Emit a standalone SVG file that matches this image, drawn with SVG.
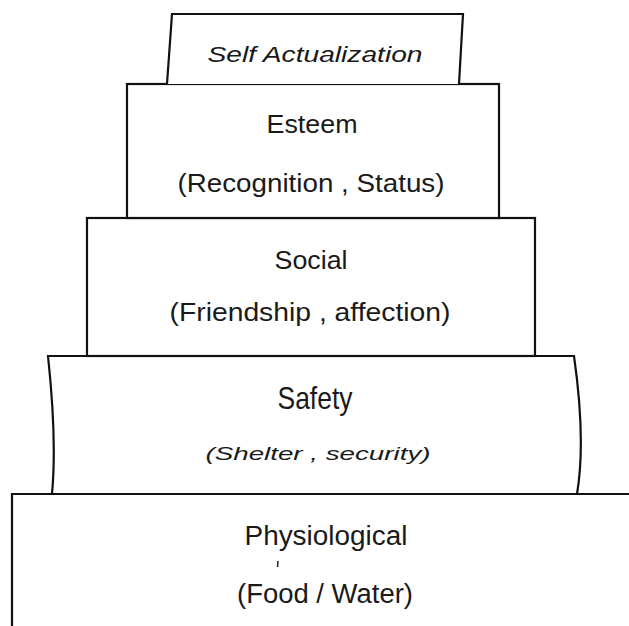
<svg xmlns="http://www.w3.org/2000/svg" width="629" height="626" viewBox="0 0 629 626">
<style>
.box{fill:#fff;stroke:#111;stroke-width:2.2;stroke-linejoin:miter}
.t{font-family:"Liberation Sans",Arial,sans-serif;fill:#1a1a1a;text-anchor:middle}
.i{font-style:italic}
</style>
<rect width="629" height="626" fill="#fff"/>
<g id="physiological">
<path class="box" d="M12,626 V494 H640 V626"/>
<text class="t" x="326" y="545" font-size="27" textLength="163" lengthAdjust="spacingAndGlyphs">Physiological</text>
<path d="M278,561 L277.5,567" stroke="#222" stroke-width="1.5"/>
<text class="t" x="325" y="603" font-size="27" textLength="176" lengthAdjust="spacingAndGlyphs">(Food / Water)</text>
</g>
<g id="safety">
<path class="box" d="M48,356 L574,356 Q586,440 577,494 L52,494 Q57,440 48,356 Z"/>
<text class="t" x="315" y="409" font-size="32" textLength="75" lengthAdjust="spacingAndGlyphs">Safety</text>
<text class="t i" x="318" y="460" font-size="19" textLength="225" lengthAdjust="spacingAndGlyphs">(Shelter , security)</text>
</g>
<g id="social">
<rect class="box" x="87" y="218" width="448" height="138"/>
<text class="t" x="311" y="269" font-size="25" textLength="73" lengthAdjust="spacingAndGlyphs">Social</text>
<text class="t" x="310" y="321" font-size="25" textLength="281" lengthAdjust="spacingAndGlyphs">(Friendship , affection)</text>
</g>
<g id="esteem">
<rect class="box" x="127" y="84" width="372" height="134"/>
<text class="t" x="312" y="133" font-size="26" textLength="91" lengthAdjust="spacingAndGlyphs">Esteem</text>
<text class="t" x="311" y="192" font-size="25" textLength="267" lengthAdjust="spacingAndGlyphs">(Recognition , Status)</text>
</g>
<g id="self-actualization">
<path class="box" d="M167,84 L172,14 L463,14 L459,84"/>
<text class="t i" x="315" y="62" font-size="22" textLength="215" lengthAdjust="spacingAndGlyphs">Self Actualization</text>
</g>
</svg>
